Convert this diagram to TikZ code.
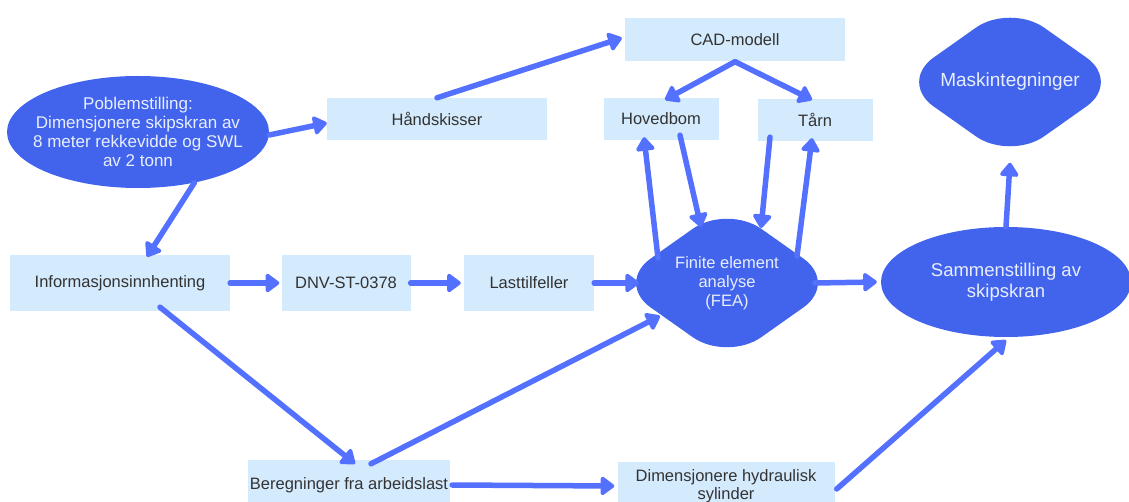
\documentclass[tikz,border=0pt]{standalone}
\usepackage{fontspec}
\setmainfont{Liberation Sans}
\usetikzlibrary{arrows.meta,shapes.geometric}
\definecolor{shapeblue}{RGB}{66,100,236}
\definecolor{arrowblue}{RGB}{84,112,255}
\definecolor{boxblue}{RGB}{212,234,253}
\definecolor{textgray}{RGB}{51,51,51}
\definecolor{paletext}{RGB}{232,238,255}

\begin{document}
\begin{tikzpicture}[x=1pt, y=-1pt,
    box/.style={fill=boxblue, text=textgray, inner sep=0pt, align=center,
        font=\fontsize{16.5}{18}\selectfont},
    blob/.style={ellipse, fill=shapeblue, text=paletext, inner xsep=-18pt, inner ysep=0pt,
        align=center},
    rdiamond/.style={diamond, fill=shapeblue, text=paletext, inner sep=0pt, align=center,
        rounded corners=42pt},
    flow/.style={arrowblue, line width=5.5pt, line cap=round,
        -{Triangle[length=15pt, width=21pt, round]}}]
    \clip (0,0) rectangle (1129,502);

    % start
    \node[blob, minimum width=262pt, minimum height=112pt,
        font=\fontsize{17}{19}\selectfont] (prob) at (138,132)
        {Poblemstilling:\\Dimensjonere skipskran av\\8 meter rekkevidde og SWL\\av 2 tonn};

    % top row
    \node[box, minimum width=220pt, minimum height=42pt] (hand) at (437,119) {Håndskisser};
    \node[box, minimum width=220pt, minimum height=43pt] (cad) at (735,40) {CAD-modell};
    \node[box, minimum width=115pt, minimum height=42pt] (hoved) at (661,119) {Hovedbom};
    \node[box, minimum width=115pt, minimum height=42pt] (taarn) at (815,120) {Tårn};
    \node[rdiamond, minimum width=222pt, minimum height=154pt,
        font=\fontsize{19}{22}\selectfont] (mask) at (1010,82) {Maskintegninger};

    % middle row
    \node[box, minimum width=220pt, minimum height=56pt] (info) at (120,283) {Informasjonsinnhenting};
    \node[box, minimum width=129pt, minimum height=56pt] (dnv) at (346,283) {DNV-ST-0378};
    \node[box, minimum width=130pt, minimum height=56pt] (last) at (529,283) {Lasttilfeller};
    \node[rdiamond, minimum width=222pt, minimum height=156pt,
        font=\fontsize{16.5}{19}\selectfont] (fea) at (727,283) {Finite element\\analyse\\(FEA)};
    \node[blob, minimum width=250pt, minimum height=110pt,
        font=\fontsize{18.5}{21}\selectfont] (samm) at (1006,282) {Sammenstilling av\\skipskran};

    % bottom row
    \node[box, minimum width=202pt, minimum height=50pt] (bereg) at (349,485) {Beregninger fra arbeidslast};
    \node[box, minimum width=217pt, minimum height=48pt] (dim) at (726,486)
        {Dimensjonere hydraulisk\\sylinder};

    % arrows
    \draw[flow] ([yshift=-3pt]prob.east) -- ([yshift=-4pt]hand.west);
    \draw[flow] (hand.north) -- ([xshift=-3pt, yshift=2pt]cad.west);
    \draw[flow] (cad.south) -- ([xshift=4pt, yshift=-2pt]hoved.north);
    \draw[flow] (cad.south) -- ([xshift=-3pt, yshift=-1pt]taarn.north);
    \draw[flow] ([shift={(-69,-25)}]fea.center) -- ([xshift=-17pt, yshift=3pt]hoved.south);
    \draw[flow] ([xshift=19pt, yshift=5pt]hoved.south) -- ([shift={(-26,-56)}]fea.center);
    \draw[flow] ([xshift=-45pt, yshift=4pt]taarn.south) -- ([shift={(34,-55)}]fea.center);
    \draw[flow] ([shift={(70,-27)}]fea.center) -- ([xshift=-3pt, yshift=3pt]taarn.south);
    \draw[flow] (prob.-42) -- ([xshift=27pt, yshift=-2pt]info.north);
    \draw[flow] (info.east) -- ([xshift=-2pt]dnv.west);
    \draw[flow] (dnv.east) -- ([xshift=-3pt]last.west);
    \draw[flow] (last.east) -- ([xshift=-88pt]fea.center);
    \draw[flow] ([xshift=88pt]fea.center) -- ([xshift=-4pt]samm.west);
    \draw[flow] (samm.north) -- ([yshift=-2pt]mask.south);
    \draw[flow] ([xshift=40pt, yshift=4pt]info.south) -- ([xshift=6pt, yshift=-4pt]bereg.north);
    \draw[flow] ([xshift=22pt, yshift=-4pt]bereg.north) -- ([shift={(-67,33)}]fea.center);
    \draw[flow] ([xshift=2pt]bereg.east) -- ([xshift=-3pt]dim.west);
    \draw[flow] ([xshift=2pt, yshift=-3pt]dim.east) -- ([yshift=-3pt]samm.south);
\end{tikzpicture}
\end{document}
